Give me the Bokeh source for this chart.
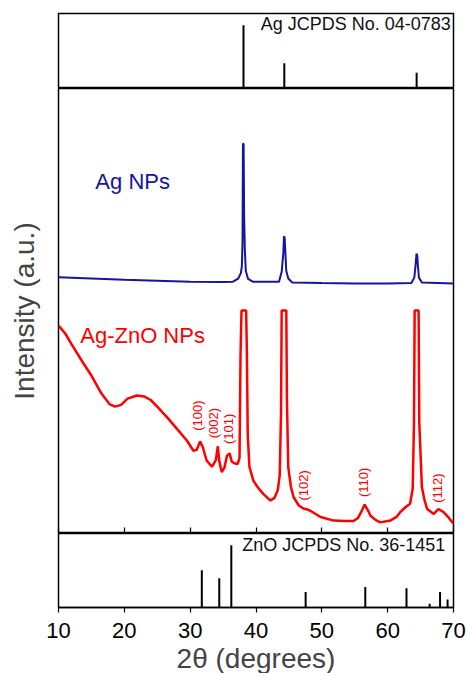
from bokeh.plotting import figure
from bokeh.layouts import column
from bokeh.models import Range1d, FixedTicker, Label, ColumnDataSource
from bokeh.embed import file_html
from bokeh.resources import INLINE

FONT = "Liberation Sans"

# ---------------- data ----------------
# Ag reference pattern (JCPDS 04-0783)
ag_ref_pos = [38.1, 44.3, 64.4]
ag_ref_int = [100, 40, 25]

# ZnO reference pattern (JCPDS 36-1451)
zno_ref_pos = [31.77, 34.42, 36.25, 47.54, 56.60, 62.86, 66.38, 67.96, 69.10]
zno_ref_int = [60, 47, 100, 25, 33, 31, 6, 25, 13]

# Ag NPs measured pattern (offset intensity, a.u.)
ag_x = [10, 15, 20, 25, 30, 35, 36.5, 37.3, 37.7, 37.85, 37.95, 38.02, 38.12, 38.2,
        38.3, 38.45, 38.8, 39.5, 43.5, 43.9, 44.15, 44.25, 44.35, 44.5, 44.6, 44.9,
        45.5, 50, 55, 60, 63.6, 64.05, 64.25, 64.38, 64.5, 64.6, 64.75, 65.2, 70]
ag_y = [57.6, 57.3, 57.0, 56.8, 56.6, 56.5, 56.6, 57.3, 58.5, 60.0, 65.2, 87.6, 87.6, 71.1,
        64.0, 59.0, 57.2, 56.6, 56.6, 58.8, 63.0, 66.8, 66.5, 62.0, 59.0, 57.3,
        56.4, 56.3, 56.2, 56.2, 56.3, 57.5, 60.5, 62.9, 62.5, 60.0, 57.5, 56.4, 56.2]

# Ag-ZnO NPs measured pattern (Ag peaks truncated)
agzno_x = [10, 11, 12, 13.8, 15, 16.5, 17.8, 18.6, 19.5, 20.5, 21.9, 23.0, 24.0, 25.0,
           26.5, 28.0, 29.5, 30.5, 31.0, 31.5, 31.9, 32.5, 33.3, 33.9, 34.2, 34.45,
           34.8, 35.2, 35.6, 36.0, 36.3, 36.7, 37.2, 37.5, 37.65, 37.8, 38.5, 38.6,
           38.75, 39.0, 39.6, 40.2, 41.1, 42.2, 42.8, 43.3, 43.6, 43.8, 43.9, 44.6,
           44.7, 44.9, 45.3, 45.7, 46.5, 47.2, 47.8, 48.5, 49.8, 51.8, 53.5, 54.8,
           55.5, 56.0, 56.5, 57.0, 57.4, 58.2, 58.9, 60.4, 61.4, 61.9, 62.7, 63.4,
           63.8, 64.0, 64.1, 64.7, 64.8, 65.2, 65.6, 66.0, 67.0, 67.7, 68.5, 69.3, 70]
agzno_y = [46.7, 45.0, 42.5, 38.2, 35.5, 31.5, 29.0, 28.5, 28.9, 30.3, 31.0, 30.8, 30.0, 28.5,
           26.1, 23.5, 20.9, 18.6, 18.8, 20.7, 19.5, 16.4, 15.0, 16.5, 19.6, 16.0,
           13.8, 14.8, 17.5, 18.0, 16.2, 15.8, 15.6, 17.0, 40.0, 50.1, 50.1, 42.0,
           22.0, 15.0, 11.9, 10.5, 8.9, 7.4, 8.0, 9.7, 13.0, 27.0, 50.1, 50.1,
           30.0, 14.9, 10.5, 8.2, 6.3, 5.6, 5.4, 4.9, 3.7, 2.9, 2.8, 2.8,
           3.5, 4.9, 6.5, 5.2, 4.0, 3.0, 2.5, 2.9, 3.8, 4.8, 5.9, 6.7,
           10.0, 25.0, 50.1, 50.1, 25.0, 10.4, 7.5, 5.5, 4.4, 5.5, 4.8, 3.5, 2.2]

# hkl annotations for ZnO reflections
hkl_text = ["(100)", "(002)", "(101)", "(102)", "(110)", "(112)"]
hkl_x = [31.1, 33.5, 35.8, 47.2, 56.3, 67.6]
hkl_y = [26.5, 24.8, 23.5, 10.8, 11.5, 10.2]

x_ticks = [10, 20, 30, 40, 50, 60, 70]

BLUE = "#16169c"
RED = "#ff0000"

xr = Range1d(10, 70)


def base_fig(**kw):
    p = figure(x_range=xr, output_backend="svg", toolbar_location=None,
               frame_width=395, min_border_left=58, min_border_right=13, **kw)
    p.outline_line_color = "black"
    p.outline_line_width = 1.5
    p.xgrid.visible = False
    p.ygrid.visible = False
    p.background_fill_color = "white"
    return p


# ---------------- top panel ----------------
p_top = base_fig(frame_height=75, y_range=Range1d(0, 118.5),
                 x_axis_location=None, y_axis_location=None,
                 min_border_top=13, min_border_bottom=0)
p_top.segment(x0=ag_ref_pos, y0=[0] * len(ag_ref_pos), x1=ag_ref_pos, y1=ag_ref_int,
              line_color="black", line_width=2)
p_top.add_layout(Label(x=69.6, y=117.0, text="Ag JCPDS No. 04-0783",
                       text_align="right", text_baseline="top",
                       text_font=FONT, text_font_size="18px", text_color="#111111"))

# ---------------- middle panel ----------------
p_mid = base_fig(frame_height=445, y_range=Range1d(0, 100),
                 min_border_top=0, min_border_bottom=0)
p_mid.line(ag_x, ag_y, line_color=BLUE, line_width=2)
p_mid.line(agzno_x, agzno_y, line_color=RED, line_width=2.5)

src = ColumnDataSource(dict(x=hkl_x, y=hkl_y, t=hkl_text))
p_mid.text(x="x", y="y", text="t", source=src, angle=1.5708,
           text_align="center", text_baseline="middle",
           text_font={"value": FONT}, text_font_size={"value": "13px"}, text_color=RED)

p_mid.add_layout(Label(x=15.6, y=79.0, text="Ag NPs", text_align="left",
                       text_baseline="middle", text_font=FONT,
                       text_font_size="22px", text_color=BLUE))
p_mid.add_layout(Label(x=13.3, y=44.6, text="Ag-ZnO NPs", text_align="left",
                       text_baseline="middle", text_font=FONT,
                       text_font_size="22px", text_color=RED))

ax = p_mid.xaxis[0]
ax.ticker = FixedTicker(ticks=x_ticks)
ax.major_tick_in = 6
ax.major_tick_out = 0
ax.minor_tick_line_color = None
ax.major_label_text_font_size = "1px"
ax.major_label_text_color = None
ax.major_label_standoff = 0
ax.axis_line_color = None
ax.major_tick_line_width = 1.2

ay = p_mid.yaxis[0]
ay.ticker = FixedTicker(ticks=[])
ay.major_tick_line_color = None
ay.minor_tick_line_color = None
ay.major_tick_out = 0
ay.major_tick_in = 0
ay.major_label_text_font_size = "1px"
ay.major_label_text_color = None
ay.major_label_standoff = 0
ay.axis_line_color = None
ay.axis_label = "Intensity (a.u.)"
ay.axis_label_text_font = FONT
ay.axis_label_text_font_size = "28px"
ay.axis_label_text_font_style = "normal"
ay.axis_label_standoff = 19

# ---------------- bottom panel ----------------
p_bot = base_fig(frame_height=74, y_range=Range1d(0, 118.8),
                 y_axis_location=None, min_border_top=0, min_border_bottom=0)
p_bot.segment(x0=zno_ref_pos, y0=[0] * len(zno_ref_pos), x1=zno_ref_pos, y1=zno_ref_int,
              line_color="black", line_width=2)
p_bot.add_layout(Label(x=68.75, y=116.0, text="ZnO JCPDS No. 36-1451",
                       text_align="right", text_baseline="top",
                       text_font=FONT, text_font_size="18px", text_color="#111111"))

bx = p_bot.xaxis[0]
bx.ticker = FixedTicker(ticks=x_ticks)
bx.major_tick_in = 0
bx.major_tick_out = 5
bx.minor_tick_line_color = None
bx.major_tick_line_width = 1.2
bx.axis_line_width = 1.5
bx.major_label_text_font = FONT
bx.major_label_text_font_size = "22px"
bx.major_label_text_color = "black"
bx.major_label_standoff = 10
bx.axis_label = "2θ (degrees)"
bx.axis_label_text_font = FONT
bx.axis_label_text_font_size = "28px"
bx.axis_label_text_font_style = "normal"
bx.axis_label_standoff = 2

layout = column(p_top, p_mid, p_bot, spacing=0)

open("out.html", "w").write(file_html(layout, INLINE))
